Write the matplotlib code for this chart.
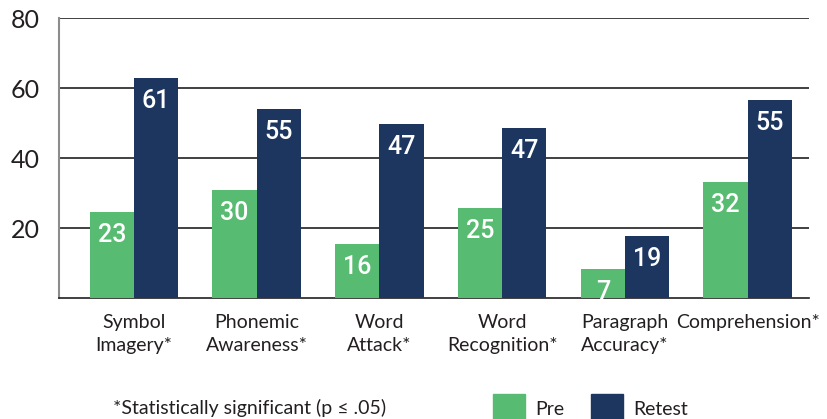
import numpy as np
import matplotlib.pyplot as plt
from matplotlib.patches import Patch

# datos
categorias = ["Symbol\nImagery*", "Phonemic\nAwareness*", "Word\nAttack*",
              "Word\nRecognition*", "Paragraph\nAccuracy*", "Comprehension*"]
pre_alto = [24.7, 30.9, 15.5, 25.8, 8.4, 33.2]
retest_alto = [62.9, 54.1, 49.8, 48.7, 17.8, 56.6]
pre_etiqueta = ["23", "30", "16", "25", "7", "32"]
retest_etiqueta = ["61", "55", "47", "47", "19", "55"]
y_ticks = [20, 40, 60, 80]

verde = "#58BB72"
azul = "#1D3660"
texto = "#231F20"

plt.rcParams["font.family"] = ["Lato", "DejaVu Sans"]

fig = plt.figure(figsize=(8.27, 4.19), dpi=100)
ax = fig.add_axes([59 / 827, 1 - 298.3 / 419, 750 / 827, 280 / 419])

x = np.arange(len(categorias))
w = 0.36
b1 = ax.bar(x - w / 2, pre_alto, w, color=verde, zorder=3)
b2 = ax.bar(x + w / 2, retest_alto, w, color=azul, zorder=3)

# etiquetas dentro de las barras
for barras, etiquetas in [(b1, pre_etiqueta), (b2, retest_etiqueta)]:
    for b, t in zip(barras, etiquetas):
        ax.annotate(t, (b.get_x() + b.get_width() / 2, b.get_height()),
                    xytext=(0, -16.5), textcoords="offset points",
                    ha="center", va="center", color="white", fontsize=18,
                    family=["Roboto", "DejaVu Sans"],
                    fontweight="medium", zorder=4)

ax.set_xlim(-0.61, 5.5)
ax.set_ylim(0, 80)
ax.set_yticks(y_ticks)
ax.set_yticklabels([str(v) for v in y_ticks], fontsize=18, color=texto)
ax.set_xticks(x)
ax.set_xticklabels(categorias, fontsize=14, color=texto, linespacing=1.45)
ax.tick_params(axis="both", length=0)
ax.tick_params(axis="y", pad=14)
ax.tick_params(axis="x", pad=11)

ax.yaxis.grid(True, color="#231F20", linewidth=1.2, zorder=0)
ax.set_axisbelow(True)
for s in ["top", "right"]:
    ax.spines[s].set_visible(False)
ax.spines["left"].set_color("#8C8C8C")
ax.spines["left"].set_linewidth(1.5)
ax.spines["bottom"].set_color("#231F20")
ax.spines["bottom"].set_linewidth(1.2)

fig.text(113 / 827, 1 - 408 / 419, "*Statistically significant (p \u2264 .05)",
         fontsize=14, color=texto, va="center", ha="left")

handles = [Patch(color=verde, label="Pre"), Patch(color=azul, label="Retest")]
fig.legend(handles=handles, loc="upper left", bbox_to_anchor=(493 / 827, 1 - 394 / 419),
           ncol=2, frameon=False, fontsize=14, handlelength=1.65, handleheight=1.9,
           handletextpad=0.5, columnspacing=1.4, borderpad=0, borderaxespad=0,
           labelcolor=texto)

fig.savefig("out.png", dpi=100)
